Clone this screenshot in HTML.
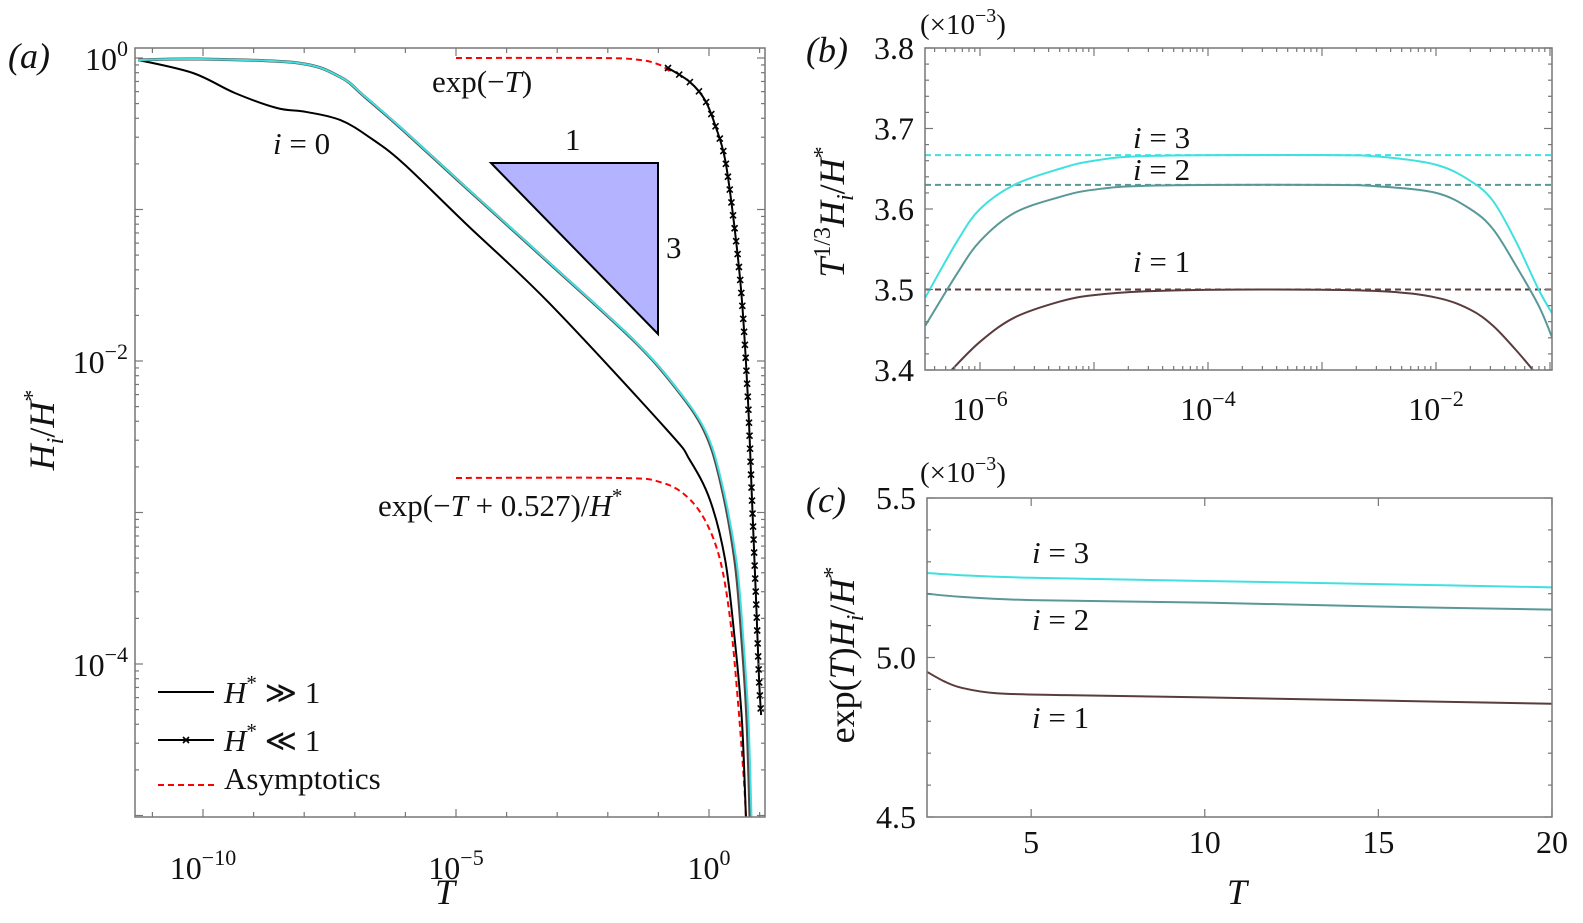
<!DOCTYPE html>
<html><head><meta charset="utf-8">
<style>
html,body{margin:0;padding:0;background:#fff;}
svg{display:block;font-family:"Liberation Serif",serif;}
text{fill:#111;}
</style></head>
<body>
<svg id="fig" width="1583" height="923" viewBox="0 0 1583 923" xmlns="http://www.w3.org/2000/svg">
<defs>
<clipPath id="clipA"><rect x="135" y="48" width="630" height="769"/></clipPath>
<clipPath id="clipB"><rect x="925" y="48" width="627" height="322"/></clipPath>
<clipPath id="clipC"><rect x="927" y="498" width="625" height="319"/></clipPath>
</defs>
<g id="panelA"></g>
<g id="panelB"></g>
<g id="panelC"></g>
</svg>
<script>
// ---------- Panel (a) data: log10(T), log10(H_i/H*) ----------
const aUpperLgT = [-11.28,-10.06,-8.12,-7.29,-6.80,-6.05,-4.82,-3.16,-1.50,-0.67,-0.10,0.22,0.51,0.65,0.75,0.81];
const aUpperLgH = [-0.013,-0.007,-0.033,-0.125,-0.257,-0.475,-0.851,-1.353,-1.861,-2.172,-2.455,-2.785,-3.314,-3.842,-4.370,-5.01];
const aCyanLgT  = [-11.28,-10.06,-8.12,-7.29,-6.79,-6.04,-4.81,-3.15,-1.49,-0.66,-0.08,0.24,0.54,0.68,0.78,0.84];
const aCyanLgH  = [-0.013,-0.007,-0.033,-0.125,-0.257,-0.475,-0.851,-1.353,-1.861,-2.172,-2.455,-2.785,-3.314,-3.842,-4.370,-5.01];
const aZeroLgT  = [-11.28,-10.20,-9.37,-8.54,-7.96,-7.29,-6.72,-6.05,-4.82,-3.16,-0.83,-0.38,0.02,0.32,0.51,0.65,0.73];
const aZeroLgH  = [-0.013,-0.099,-0.231,-0.330,-0.356,-0.409,-0.521,-0.693,-1.089,-1.617,-2.455,-2.653,-2.918,-3.314,-3.842,-4.370,-5.01];
const aSmallLgT = [-0.81,-0.38,-0.08,0.12,0.32,0.51,0.65,0.77,0.85,0.93,0.99,1.03];
const aSmallLgH = [-0.066,-0.158,-0.277,-0.442,-0.673,-1.135,-1.597,-2.257,-2.918,-3.578,-4.106,-4.337];
const aAsym1LgT = [-5,-2.15,-1.36,-0.97,-0.73];
const aAsym1LgH = [0,0,-0.013,-0.046,-0.099];
const aAsym2LgT = [-5,-1.76,-0.97,-0.47,-0.08,0.22,0.42,0.57,0.69,0.73];
const aAsym2LgH = [-2.772,-2.772,-2.799,-2.885,-3.050,-3.314,-3.710,-4.238,-4.766,-5.01];
const aXTicks = [-10,-5,0];
const aYTicks = [0,-2,-4];

// ---------- Panel (b) data: log10(T), T^{1/3}H_i/H* (x1e-3) ----------
const bCyanLgT = [-6.48,-6.2,-6,-5.7,-5.3,-5,-4.5,-3,-2.5,-2,-1.7,-1.5,-1.3,-1.1,-0.98];
const bCyanV   = [3.49,3.56,3.60,3.63,3.65,3.66,3.666,3.667,3.665,3.655,3.635,3.61,3.56,3.50,3.47];
const bTealLgT = [-6.48,-6.2,-6,-5.7,-5.3,-5,-4.5,-3,-2.5,-2,-1.7,-1.5,-1.3,-1.1,-0.98];
const bTealV   = [3.455,3.52,3.56,3.595,3.615,3.624,3.629,3.63,3.628,3.62,3.60,3.575,3.53,3.48,3.44];
const bBrownLgT = [-6.25,-6,-5.7,-5.3,-5,-4.5,-3.5,-2.5,-2,-1.7,-1.5,-1.3,-1.15];
const bBrownV   = [3.40,3.435,3.465,3.485,3.493,3.498,3.50,3.498,3.49,3.475,3.455,3.425,3.40];
const bAsymV = [3.667,3.630,3.500];
const bYTicks = [3.4,3.5,3.6,3.7,3.8];
const bXTicks = [-6,-4,-2];

// ---------- Panel (c) data: T, exp(T)H_i/H* (x1e-3) ----------
const cCyanT = [2,3,5,10,15,20];
const cCyanV = [5.265,5.258,5.25,5.240,5.230,5.22];
const cTealT = [2,3,5,10,15,20];
const cTealV = [5.20,5.19,5.18,5.172,5.16,5.15];
const cBrownT = [2,2.5,3,4,6,10,15,20];
const cBrownV = [4.955,4.925,4.905,4.888,4.882,4.875,4.865,4.855];
const cYTicks = [4.5,5.0,5.5];
const cXTicks = [5,10,15,20];

const NS = "http://www.w3.org/2000/svg";
function el(tag, attrs, parent){ const e=document.createElementNS(NS,tag); for(const k in attrs) e.setAttribute(k,attrs[k]); parent.appendChild(e); return e; }
function smoothPath(pts){
  if(pts.length<2) return "";
  let d="M"+pts[0][0].toFixed(2)+","+pts[0][1].toFixed(2);
  for(let i=0;i<pts.length-1;i++){
    const p0=pts[Math.max(0,i-1)], p1=pts[i], p2=pts[i+1], p3=pts[Math.min(pts.length-1,i+2)];
    const c1=[p1[0]+(p2[0]-p0[0])/6, p1[1]+(p2[1]-p0[1])/6];
    const c2=[p2[0]-(p3[0]-p1[0])/6, p2[1]-(p3[1]-p1[1])/6];
    d+=" C"+c1[0].toFixed(2)+","+c1[1].toFixed(2)+" "+c2[0].toFixed(2)+","+c2[1].toFixed(2)+" "+p2[0].toFixed(2)+","+p2[1].toFixed(2);
  }
  return d;
}

// ---------- Panel (a) ----------
const A = document.getElementById('panelA');
const axA = lg => 456 + 50.6*(lg+5);
const ayA = lg => 58 - 151.5*lg;
const gA = el('g',{'clip-path':'url(#clipA)'},A);
function lineA(xs,ys,style,name){
  const p=el('path',Object.assign({d:smoothPath(xs.map((x,i)=>[axA(x),ayA(ys[i])])),fill:'none'},style),gA);
  
  
  return p;
}
lineA(aAsym1LgT,aAsym1LgH,{stroke:'#f00','stroke-width':2,'stroke-dasharray':'6,4'},'asymptote-exp-t');
lineA(aAsym2LgT,aAsym2LgH,{stroke:'#f00','stroke-width':2,'stroke-dasharray':'6,4'},'asymptote-exp-t-0527');
lineA(aZeroLgT,aZeroLgH,{stroke:'#000','stroke-width':2},'curve-i0');
lineA(aUpperLgT,aUpperLgH,{stroke:'#5a4444','stroke-width':3},'curve-i1-i2');
lineA(aCyanLgT,aCyanLgH,{stroke:'#40e0e0','stroke-width':2},'curve-i3');
const smallPath = lineA(aSmallLgT,aSmallLgH,{stroke:'#000','stroke-width':2},'curve-small-hstar');
(function(){
  const L=smallPath.getTotalLength();
  const gm=el('g',{stroke:'#000','stroke-width':1.6},gA);
  
  
  for(let s=0;s<=L;s+=13){
    const p=smallPath.getPointAtLength(s);
    el('path',{d:`M${p.x-3},${p.y-3}L${p.x+3},${p.y+3}M${p.x-3},${p.y+3}L${p.x+3},${p.y-3}`},gm);
  }
})();
const tri=el('polygon',{points:'491,163 658,163 658,334',fill:'#b3b3ff',stroke:'#000','stroke-width':2},A);


const frA=el('rect',{x:135,y:48,width:630,height:769,fill:'none',stroke:'#777','stroke-width':1.5},A);


for(let d=-11;d<=1;d++){
  const x=axA(d); const len=(d%5===0)?8:5;
  el('line',{x1:x,y1:817,x2:x,y2:817-len,stroke:'#777','stroke-width':1.2},A);
  el('line',{x1:x,y1:48,x2:x,y2:48+len,stroke:'#777','stroke-width':1.2},A);
}
for(const d of aXTicks){
  const t=el('text',{x:axA(d),y:879,'font-size':32,'text-anchor':'middle'},A);
  t.innerHTML=`10<tspan dy="-14" font-size="22">${d<0?'−'+(-d):d}</tspan>`;
  
  
}
for(let d=-5;d<=0;d++){
  for(let m=1;m<10;m++){
    const lg=d+Math.log10(m); const y=ayA(lg);
    if(y<48||y>817) continue;
    const len=m===1?8:4;
    el('line',{x1:135,y1:y,x2:135+len,y2:y,stroke:'#777','stroke-width':1.2},A);
    el('line',{x1:765,y1:y,x2:765-len,y2:y,stroke:'#777','stroke-width':1.2},A);
  }
}
for(const d of aYTicks){
  const t=el('text',{x:128,y:ayA(d)+12,'font-size':32,'text-anchor':'end'},A);
  t.innerHTML=d===0?`10<tspan dy="-14" font-size="22">0</tspan>`:`10<tspan dy="-14" font-size="22">−${-d}</tspan>`;
  
  
}
</script>
<script>
(function(){
const A=document.getElementById('panelA');
A.insertAdjacentHTML('beforeend',`
<text x="8" y="68" font-size="36" font-style="italic">(a)</text>
<text x="445" y="904" font-size="36" font-style="italic" text-anchor="middle">T</text>
<text transform="translate(54,430) rotate(-90)" font-size="36" text-anchor="middle"><tspan font-style="italic">H</tspan><tspan font-style="italic" font-size="24" dy="9">i</tspan><tspan dy="-9">/</tspan><tspan font-style="italic">H</tspan><tspan dy="-14" font-size="24">*</tspan></text>
<text x="432" y="92" font-size="31">exp(−<tspan font-style="italic">T</tspan>)</text>
<text x="273" y="154" font-size="31"><tspan font-style="italic">i</tspan> = 0</text>
<text x="565" y="150" font-size="31">1</text>
<text x="666" y="258" font-size="31">3</text>
<text x="378" y="516" font-size="31">exp(−<tspan font-style="italic">T</tspan> + 0.527)/<tspan font-style="italic">H</tspan><tspan dy="-13" font-size="21">*</tspan></text>
<g>
 <line x1="158" y1="692" x2="214" y2="692" stroke="#000" stroke-width="2"/>
 <text x="224" y="703" font-size="31"><tspan font-style="italic">H</tspan><tspan dy="-13" font-size="21">*</tspan><tspan dy="13"> ≫ 1</tspan></text>
 <line x1="158" y1="740" x2="214" y2="740" stroke="#000" stroke-width="2"/>
 <path d="M183,737L189,743M183,743L189,737" stroke="#000" stroke-width="1.6"/>
 <text x="224" y="751" font-size="31"><tspan font-style="italic">H</tspan><tspan dy="-13" font-size="21">*</tspan><tspan dy="13"> ≪ 1</tspan></text>
 <line x1="158" y1="785" x2="214" y2="785" stroke="#f00" stroke-width="2" stroke-dasharray="6,4"/>
 <text x="224" y="789" font-size="31">Asymptotics</text>
</g>`);

const B=document.getElementById('panelB');
const axB=lg=>980+114*(lg+6);
const ayB=v=>48+(3.8-v)*805;
const gB=el('g',{'clip-path':'url(#clipB)'},B);
const bCols=['#40e0e0','#5a9898','#5a3c3c'];
bAsymV.forEach((v,i)=>{
  const l=el('line',{x1:925,x2:1552,y1:ayB(v),y2:ayB(v),stroke:bCols[i],'stroke-width':2,'stroke-dasharray':'6,4'},gB);
  
  
});
[[bCyanLgT,bCyanV,'curve-b-i3'],[bTealLgT,bTealV,'curve-b-i2'],[bBrownLgT,bBrownV,'curve-b-i1']].forEach((s,i)=>{
  const p=el('path',{d:smoothPath(s[0].map((x,j)=>[axB(x),ayB(s[1][j])])),fill:'none',stroke:bCols[i],'stroke-width':2},gB);
  
  
});
const frB=el('rect',{x:925,y:48,width:627,height:322,fill:'none',stroke:'#777','stroke-width':1.5},B);


for(let d=-7;d<=-1;d++){
  for(let m=1;m<10;m++){
    const x=axB(d+Math.log10(m)); if(x<925||x>1552) continue;
    const len=m===1?8:4;
    el('line',{x1:x,y1:370,x2:x,y2:370-len,stroke:'#777','stroke-width':1.2},B);
    el('line',{x1:x,y1:48,x2:x,y2:48+len,stroke:'#777','stroke-width':1.2},B);
  }
}
for(const d of bXTicks){
  const t=el('text',{x:axB(d),y:420,'font-size':32,'text-anchor':'middle'},B);
  t.innerHTML=`10<tspan dy="-14" font-size="22">−${-d}</tspan>`;
  
  
}
for(let k=0;k<=20;k++){
  const v=3.4+k*0.02; const y=ayB(v); const len=(k%5===0)?8:4;
  el('line',{x1:925,y1:y,x2:925+len,y2:y,stroke:'#777','stroke-width':1.2},B);
  el('line',{x1:1552,y1:y,x2:1552-len,y2:y,stroke:'#777','stroke-width':1.2},B);
}
for(const v of bYTicks){
  const t=el('text',{x:914,y:ayB(v)+11,'font-size':32,'text-anchor':'end'},B);
  t.textContent=v.toFixed(1);
  
  
}
B.insertAdjacentHTML('beforeend',`
<text x="806" y="62" font-size="36" font-style="italic">(b)</text>
<text x="920" y="34" font-size="29">(×10<tspan dy="-12" font-size="20">−3</tspan><tspan dy="12">)</tspan></text>
<text transform="translate(844,212) rotate(-90)" font-size="36" text-anchor="middle"><tspan font-style="italic">T</tspan><tspan dy="-14" font-size="24">1/3</tspan><tspan font-style="italic" dy="14">H</tspan><tspan font-style="italic" font-size="24" dy="9">i</tspan><tspan dy="-9">/</tspan><tspan font-style="italic">H</tspan><tspan dy="-14" font-size="24">*</tspan></text>
<text x="1133" y="148" font-size="31"><tspan font-style="italic">i</tspan> = 3</text>
<text x="1133" y="180" font-size="31"><tspan font-style="italic">i</tspan> = 2</text>
<text x="1133" y="272" font-size="31"><tspan font-style="italic">i</tspan> = 1</text>`);

const C=document.getElementById('panelC');
const axC=t=>927+(t-2)*34.72;
const ayC=v=>498+(5.5-v)*319;
const gC=el('g',{'clip-path':'url(#clipC)'},C);
[[cCyanT,cCyanV,'#40e0e0','curve-c-i3'],[cTealT,cTealV,'#5a9898','curve-c-i2'],[cBrownT,cBrownV,'#5a3c3c','curve-c-i1']].forEach(s=>{
  const p=el('path',{d:smoothPath(s[0].map((x,j)=>[axC(x),ayC(s[1][j])])),fill:'none',stroke:s[2],'stroke-width':2},gC);
  
  
});
const frC=el('rect',{x:927,y:498,width:625,height:319,fill:'none',stroke:'#777','stroke-width':1.5},C);


for(const t of cXTicks){
  const x=axC(t);
  el('line',{x1:x,y1:817,x2:x,y2:809,stroke:'#777','stroke-width':1.2},C);
  el('line',{x1:x,y1:498,x2:x,y2:506,stroke:'#777','stroke-width':1.2},C);
  const tx=el('text',{x:x,y:853,'font-size':32,'text-anchor':'middle'},C);
  tx.textContent=t;
  
  
}
for(let k=0;k<=10;k++){
  const y=ayC(4.5+k*0.1); const len=(k%5===0)?8:4;
  el('line',{x1:927,y1:y,x2:927+len,y2:y,stroke:'#777','stroke-width':1.2},C);
  el('line',{x1:1552,y1:y,x2:1552-len,y2:y,stroke:'#777','stroke-width':1.2},C);
}
for(const v of cYTicks){
  const t=el('text',{x:916,y:ayC(v)+11,'font-size':32,'text-anchor':'end'},C);
  t.textContent=v.toFixed(1);
  
  
}
C.insertAdjacentHTML('beforeend',`
<text x="806" y="512" font-size="36" font-style="italic">(c)</text>
<text x="920" y="482" font-size="29">(×10<tspan dy="-12" font-size="20">−3</tspan><tspan dy="12">)</tspan></text>
<text x="1237" y="904" font-size="36" font-style="italic" text-anchor="middle">T</text>
<text transform="translate(854,655) rotate(-90)" font-size="36" text-anchor="middle">exp(<tspan font-style="italic">T</tspan>)<tspan font-style="italic">H</tspan><tspan font-style="italic" font-size="24" dy="9">i</tspan><tspan dy="-9">/</tspan><tspan font-style="italic">H</tspan><tspan dy="-14" font-size="24">*</tspan></text>
<text x="1032" y="563" font-size="31"><tspan font-style="italic">i</tspan> = 3</text>
<text x="1032" y="630" font-size="31"><tspan font-style="italic">i</tspan> = 2</text>
<text x="1032" y="728" font-size="31"><tspan font-style="italic">i</tspan> = 1</text>`);
})();
</script>
</body></html>
